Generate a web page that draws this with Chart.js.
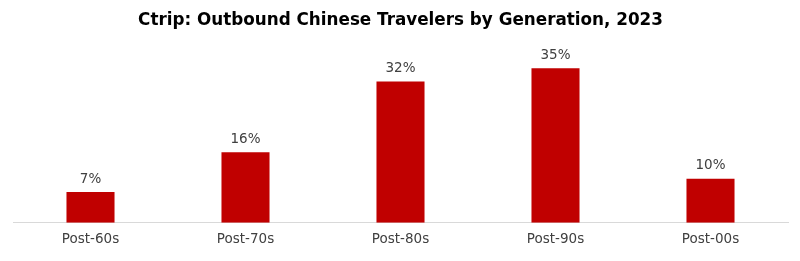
<!DOCTYPE html>
<html><head><meta charset="utf-8">
<script src="https://cdn.jsdelivr.net/npm/chart.js@4"></script>
<style>html,body{margin:0;padding:0;background:#fff;}#wrap{width:800px;height:261px;position:relative;}</style>
</head><body>
<div id="wrap"><canvas id="c" width="800" height="261"></canvas></div>
<script>
const categories = ["Post-60s", "Post-70s", "Post-80s", "Post-90s", "Post-00s"];
const shares = [7, 16, 32, 35, 10];
const chartTitle = "Ctrip: Outbound Chinese Travelers by Generation, 2023";

const FONT = "'Century Gothic', 'URW Gothic', 'DejaVu Sans', sans-serif";

const valueLabels = {
  id: 'valueLabels',
  afterDatasetsDraw(chart) {
    const ctx = chart.ctx;
    const meta = chart.getDatasetMeta(0);
    ctx.save();
    ctx.font = "13.5px " + FONT;
    ctx.fillStyle = "#404040";
    ctx.textAlign = "center";
    ctx.textBaseline = "bottom";
    meta.data.forEach((bar, i) => {
      ctx.fillText(shares[i] + "%", bar.x, bar.y - 6);
    });
    ctx.restore();
  }
};

new Chart(document.getElementById('c'), {
  type: 'bar',
  data: {
    labels: categories,
    datasets: [{
      data: shares,
      backgroundColor: '#C00000',
      borderWidth: 0,
      categoryPercentage: 1,
      barPercentage: 0.31
    }]
  },
  options: {
    responsive: false,
    animation: false,
    devicePixelRatio: 1,
    layout: { padding: { left: 13, right: 12, top: 6, bottom: 4 } },
    plugins: {
      legend: { display: false },
      tooltip: { enabled: false },
      title: {
        display: true,
        text: chartTitle,
        color: '#000000',
        font: { family: FONT, size: 16.8, weight: 'bold' },
        padding: { top: 5, bottom: 15 }
      }
    },
    scales: {
      x: {
        grid: { display: false, drawTicks: false },
        border: { display: true, color: '#D9D9D9', width: 1 },
        ticks: { color: '#404040', font: { family: FONT, size: 13.5 }, padding: 9 }
      },
      y: {
        display: false,
        min: 0,
        max: 40
      }
    }
  },
  plugins: [valueLabels]
});
</script>
</body></html>
